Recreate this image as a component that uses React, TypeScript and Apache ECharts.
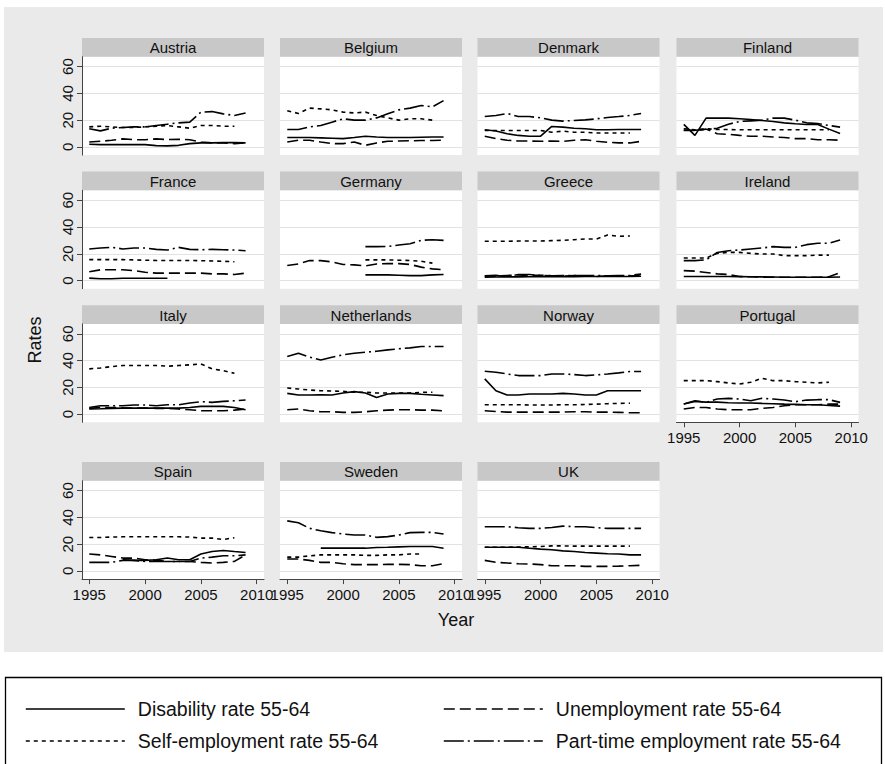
import React, { useEffect, useRef } from "react";
import * as echarts from "echarts";

const FONT = '"Liberation Sans", Arial, Helvetica, sans-serif';

const years = [1995, 1996, 1997, 1998, 1999, 2000, 2001, 2002, 2003, 2004, 2005, 2006, 2007, 2008, 2009];
const countries = [
  "Austria", "Belgium", "Denmark", "Finland",
  "France", "Germany", "Greece", "Ireland",
  "Italy", "Netherlands", "Norway", "Portugal",
  "Spain", "Sweden", "UK",
];
const seriesNames = [
  "Disability rate 55-64",
  "Unemployment rate 55-64",
  "Self-employment rate 55-64",
  "Part-time employment rate 55-64",
];
const xTicks = [1995, 2000, 2005, 2010];
const yTicks = [0, 20, 40, 60];
const N = null;

// rows follow the order of `countries`
const disability: (number | null)[][] = [
  [2, 1.7, 1.7, 1.7, 1.7, 1.7, 1, 0.8, 1.2, 2.5, 3, 3, 3.2, 3.2, 3],
  [7, 7, 7, 6.8, 6.5, 6.2, 7, 8, 7.4, 7, 7, 7, 7.2, 7.4, 7.4],
  [12.8, 11.9, 9.9, 8.6, 8, 8, 15.3, 14.8, 14, 13.6, 12.8, 12.8, 13, 13, 13],
  [16.8, 8.6, 21.5, 21.5, 21.5, 21, 20.5, 19.8, 19, 18, 17.3, 16.8, 16.8, 13.3, 10],
  [1.8, 1.3, 1.3, 1.7, 1.7, 1.7, 1.7, 1.7, N, N, N, N, N, N, N],
  [N, N, N, N, N, N, N, 4.2, 4.2, 4.2, 4, 3.7, 3.7, 4.2, 4.5],
  [2.5, 2.6, 2.7, 2.7, 2.8, 2.8, 2.8, 2.8, 2.9, 3, 3, 3, 3, 3, 3.2],
  [3, 3, 3, 3, 3, 2.9, 2.8, 2.7, 2.6, 2.5, 2.5, 2.5, 2.5, 2.5, 2.6],
  [3.8, 4, 4.3, 4.5, 4.5, 4.5, 4.5, 4.5, 4.5, 5, 5.8, 5.8, 5.8, 5, 3.3],
  [15.5, 14.3, 14.3, 14.5, 14.3, 15.8, 16.8, 15.8, 12.5, 15, 15.5, 15.5, 14.8, 14.3, 13.8],
  [26.3, 17.5, 14.3, 14.3, 15, 15, 15, 15.5, 15, 14.3, 14.3, 17.5, 17.5, 17.5, 17.5],
  [7.5, 9.5, 9, 9, 8.5, 8.3, 8.3, 8, 7.8, 7.5, 7.3, 7, 7, 6.5, 6],
  [N, N, N, 8.4, 7.9, 7.9, 8.4, 9.6, 8.4, 8.4, 12.6, 14.5, 15.3, 14.5, 13.8],
  [N, N, N, 17, 17, 17, 17, 17, 17.5, 17.7, 18, 18.2, 18.2, 18.2, 17],
  [17.7, 17.7, 17.7, 17.7, 17, 16.3, 15.8, 15, 14.5, 13.8, 13.3, 12.8, 12.6, 12, 12],
];

const unemployment: (number | null)[][] = [
  [3.7, 4.2, 5, 6, 5.4, 5.4, 6, 5.5, 5.7, 5.4, 3.7, 3, 3, 2.5, 3],
  [3.7, 5, 5, 3.7, 2.5, 2.5, 3.7, 1.2, 3, 4.2, 4.4, 4.6, 4.8, 4.8, 5],
  [8, 6.2, 5, 4.4, 4.4, 4.2, 4.4, 4.2, 5, 5.4, 4.2, 3.5, 3, 3, 4.2],
  [12.3, 12.3, 13.3, 9.9, 9.4, 8.6, 8, 8, 7.4, 7, 6.2, 6.2, 5.4, 5.4, 5],
  [6.5, 8, 8, 8, 7.4, 6.2, 5.5, 5.5, 5.5, 5.5, 5.5, 5, 5, 4.5, 5.5],
  [11.2, 12.4, 14.9, 14.9, 13.9, 12, 11.7, 11, 12.4, 12.6, 12.6, 12, 10, 8.7, 8],
  [3.5, 3.2, 3.8, 4.2, 3.8, 4, 3.5, 3.2, 3.8, 3.5, 3, 3.6, 3.2, 3.5, 3.5],
  [7.4, 7, 6, 5, 4.5, 3, 2.8, 2.5, 2.5, 2.5, 2.5, 2.5, 2.5, 2.8, 5.8],
  [4.3, 5, 5, 4.6, 4.6, 4.5, 4.3, 4.3, 3.8, 3.3, 2.5, 2.5, 2.5, 3, 3.8],
  [3.3, 3.8, 2.5, 1.8, 1.8, 1.3, 1.3, 1.8, 2.5, 3, 3.3, 3.3, 3, 3, 2.5],
  [2.5, 2, 1.5, 1.5, 1.5, 1.5, 1.5, 1.5, 1.8, 1.8, 1.5, 1.5, 1.3, 1, 1],
  [3.8, 5, 5, 3.8, 3.3, 3.3, 3.3, 4.3, 5, 6.3, 7, 7, 7, 7.5, 7.5],
  [12.6, 12, 10.8, 9.6, 9.6, 8.4, 7.9, 7.1, 7.1, 7.1, 6.4, 5.9, 6.4, 7.1, 12],
  [8.9, 8.9, 7.9, 6.4, 6.4, 5.4, 4.7, 4.7, 4.7, 4.9, 4.9, 4.7, 3.9, 3.9, 5.4],
  [7.9, 6.4, 5.9, 5.4, 5.2, 4.7, 3.9, 3.9, 3.9, 3.4, 3.4, 3.4, 3.6, 3.9, 4.2],
];

const selfEmployment: (number | null)[][] = [
  [15, 15.5, 15, 14.5, 14.5, 15, 15.5, 16, 15, 14, 16, 16, 15.5, 15.5, N],
  [27, 25, 29, 28.4, 27.7, 26, 25.4, 26, 23.5, 21.7, 20, 21, 21, 20, N],
  [12.3, 12.3, 12.3, 12.3, 12.3, 12.3, 11, 11.8, 11, 11, 10.4, 10.4, 10.4, 10.4, N],
  [13.6, 12.8, 13.6, 13, 13, 12.8, 12.8, 12.8, 12.8, 12.8, 12.8, 12.8, 12.8, 12.8, N],
  [15.6, 15.6, 15.6, 15.6, 15.4, 15.2, 15, 15, 15, 15, 14.8, 14.6, 14.4, 14, N],
  [N, N, N, N, N, N, N, 15.4, 15.4, 15.4, 15.2, 14.9, 14.4, 13, N],
  [29.3, 29.3, 29.3, 29.5, 29.5, 29.5, 29.8, 30, 30.5, 31, 31, 34, 33, 33.3, N],
  [16.8, 16.8, 16.8, 20.3, 21, 21, 20.3, 19.8, 19.8, 18.6, 18.6, 18.6, 19, 19, N],
  [33.8, 34.5, 35.5, 36.3, 36.3, 36.3, 36.3, 35.8, 36.3, 36.8, 37.5, 33.8, 32.5, 30.5, N],
  [19.5, 18.8, 18, 17.5, 17.3, 17, 16.3, 16.3, 15.8, 15.8, 15.8, 15.8, 16.3, 16.3, N],
  [7, 7, 7, 7, 6.8, 6.8, 6.8, 7, 7, 7.2, 7.5, 7.8, 8, 8.2, N],
  [25, 25, 25, 24.3, 23.3, 22.5, 23.8, 26.8, 25, 25, 24.3, 23.8, 23.3, 23.8, N],
  [25, 25, 25.3, 25.5, 25.5, 25.5, 25.5, 25.5, 25.5, 25.3, 24.5, 24.5, 23.5, 24.8, N],
  [10.3, 10.3, 11.3, 12, 12, 12, 12, 11.6, 11.6, 12, 12, 12.6, 12.6, N, N],
  [17.7, 17.7, 17.7, 17.9, 18, 18.2, 18.7, 18.7, 18.5, 18.5, 18.5, 18.5, 18.5, 18.5, N],
];

const partTime: (number | null)[][] = [
  [13.6, 12, 14, 14.5, 15, 15, 16, 17, 18, 18.5, 26, 26.4, 24.7, 23.5, 25.4],
  [13, 13, 15, 16, 18.5, 21, 20, 20, 21.7, 24.7, 27.7, 29, 31, 30, 34.6],
  [22.7, 23.5, 25, 22.7, 22.7, 21.7, 20, 19.3, 19.8, 20.2, 21, 22, 22.7, 23.5, 25],
  [12.5, 12.5, 13, 14, 17, 19, 19.5, 20, 21.5, 21.5, 20, 18, 17.5, 16, 14.8],
  [23.6, 24.3, 24.8, 23.6, 24.3, 24.3, 23.3, 22.8, 24.8, 23.3, 23, 23.3, 23, 22.8, 22.3],
  [N, N, N, N, N, N, N, 25.3, 25.3, 25.5, 26.5, 27.5, 30, 30.5, 30],
  [3.5, 3.9, 2.8, 4.5, 4.5, 3.7, 3.5, 3.8, 3.8, 3.8, 3.7, 3.5, 3.7, 3.8, 4.8],
  [14.9, 14.9, 15.4, 21, 22.3, 22.8, 23.6, 24.3, 25.3, 24.8, 24.8, 26.8, 27.8, 27.8, 30.3],
  [5, 6.3, 6.3, 6.3, 6.8, 6.8, 6.3, 7, 7, 8.3, 9.3, 8.8, 9.5, 10, 10.5],
  [43, 45.5, 42.5, 40.5, 42.5, 44.3, 45.5, 46.3, 47, 48, 48.8, 49.5, 50.5, 50.5, 50.5],
  [32, 31.3, 30, 28.8, 28.8, 28.8, 30, 30, 29.5, 28.8, 29.3, 30, 30.8, 31.8, 31.8],
  [7.5, 10, 8.8, 11.3, 11.8, 11.3, 10, 11.8, 11.3, 10.5, 9.3, 10.5, 10.8, 10.8, 8.8],
  [6.4, 6.4, 6.4, 7.9, 7.9, 7.1, 7.1, 7.1, 7.1, 7.1, 9.6, 10.3, 11.3, 11.3, 12],
  [37.4, 36, 31.8, 30, 28.6, 27.6, 26.8, 26.8, 25.1, 25.6, 26.8, 28.6, 28.8, 28.8, 27.6],
  [33, 33, 33, 32.3, 31.8, 31.8, 32.5, 33.5, 33, 33, 32.3, 31.8, 31.8, 31.8, 31.8],
];

const measures = [disability, unemployment, selfEmployment, partTime];
const dashTypes: any[] = ["solid", [11, 5], [4, 4], [20, 4, 2, 4]];

// layout
const colLeft = [82, 280, 477.5, 676.5];
const panelW = 182;
const stripTop = [38, 171.6, 305.2, 462];
const stripH = 18.7;
const plotH = 98.4;
const xMin = 1994.35;
const xMax = 2010.65;
const yMin = -6.1;
const yMax = 67.4;
const bottomPanels = [11, 12, 13, 14];

export default function App() {
  const ref = useRef<HTMLDivElement>(null);

  useEffect(() => {
    document.body.style.margin = "0";
    const chart = echarts.init(ref.current!, null, { renderer: "svg" });

    const grid: any[] = [];
    const xAxis: any[] = [];
    const yAxis: any[] = [];
    const series: any[] = [];
    const elements: any[] = [];

    countries.forEach((name, i) => {
      const col = i % 4;
      const row = Math.floor(i / 4);
      const left = colLeft[col];
      const top = stripTop[row] + stripH;
      const showX = bottomPanels.includes(i);
      const showY = col === 0;

      grid.push({
        left,
        top,
        width: panelW,
        height: plotH,
        show: true,
        backgroundColor: "#ffffff",
        borderWidth: 0,
      });

      xAxis.push({
        gridIndex: i,
        type: "value",
        min: xMin,
        max: xMax,
        axisLine: { show: showX, onZero: false, lineStyle: { color: "#444", width: 1 } },
        axisTick: { show: showX, length: 5, customValues: xTicks, lineStyle: { color: "#444", width: 1 } },
        axisLabel: {
          show: showX,
          customValues: xTicks,
          margin: 8,
          fontSize: 15,
          color: "#111",
          fontFamily: FONT,
          formatter: (v: number) => String(v),
        },
        splitLine: { show: false },
      });

      yAxis.push({
        gridIndex: i,
        type: "value",
        min: yMin,
        max: yMax,
        axisLine: { show: showY, onZero: false, lineStyle: { color: "#444", width: 1 } },
        axisTick: { show: showY, length: 5, customValues: yTicks, lineStyle: { color: "#444", width: 1 } },
        axisLabel: {
          show: showY,
          customValues: yTicks,
          rotate: 90,
          margin: 7,
          fontSize: 15,
          color: "#111",
          fontFamily: FONT,
          formatter: (v: number) => String(v),
        },
        splitLine: { show: true, lineStyle: { color: "#e2e2e2", width: 1.2 } },
      });

      measures.forEach((m, k) => {
        series.push({
          type: "line",
          name: seriesNames[k],
          xAxisIndex: i,
          yAxisIndex: i,
          data: years.map((y, j) => [y, m[i][j]]),
          symbol: "none",
          showSymbol: false,
          connectNulls: false,
          lineStyle: { color: "#000", width: 1.6, type: dashTypes[k] },
          itemStyle: { color: "#000" },
          silent: true,
        });
      });

      elements.push({
        type: "rect",
        shape: { x: left, y: stripTop[row], width: panelW, height: stripH },
        style: { fill: "#c8c8c8" },
        silent: true,
      });
      elements.push({
        type: "text",
        x: left + panelW / 2,
        y: stripTop[row] + stripH / 2 + 0.5,
        style: {
          text: name,
          fill: "#111",
          fontSize: 15,
          fontFamily: FONT,
          align: "center",
          verticalAlign: "middle",
        },
        silent: true,
      });
    });

    elements.push({
      type: "text",
      x: 35,
      y: 340,
      rotation: Math.PI / 2,
      style: { text: "Rates", fill: "#111", fontSize: 18, fontFamily: FONT, align: "center", verticalAlign: "middle" },
      silent: true,
    });
    elements.push({
      type: "text",
      x: 456,
      y: 620,
      style: { text: "Year", fill: "#111", fontSize: 18, fontFamily: FONT, align: "center", verticalAlign: "middle" },
      silent: true,
    });
    elements.push({
      type: "rect",
      shape: { x: 5.5, y: 677.5, width: 876, height: 130 },
      style: { fill: "none", stroke: "#000", lineWidth: 1.3 },
      silent: true,
    });

    const legendCommon = {
      orient: "vertical",
      top: 694,
      itemWidth: 99,
      itemHeight: 18,
      itemGap: 12,
      selectedMode: false,
      itemStyle: { opacity: 0 },
      lineStyle: { width: 1.6 },
      textStyle: { fontSize: 19.5, color: "#111", fontFamily: FONT, padding: [0, 0, 0, 8] },
    };

    chart.setOption({
      animation: false,
      backgroundColor: "transparent",
      grid,
      xAxis,
      yAxis,
      series,
      graphic: { elements },
      legend: [
        { ...legendCommon, left: 20, data: [seriesNames[0], seriesNames[2]] },
        { ...legendCommon, left: 438, data: [seriesNames[1], seriesNames[3]] },
      ],
    });

    return () => chart.dispose();
  }, []);

  return (
    <div style={{ position: "relative", width: 885, height: 764, background: "#ffffff", overflow: "hidden" }}>
      <div style={{ position: "absolute", left: 4, top: 7, width: 879, height: 645, background: "#eaeaea" }} />
      <div ref={ref} style={{ position: "absolute", left: 0, top: 0, width: 885, height: 764 }} />
    </div>
  );
}
